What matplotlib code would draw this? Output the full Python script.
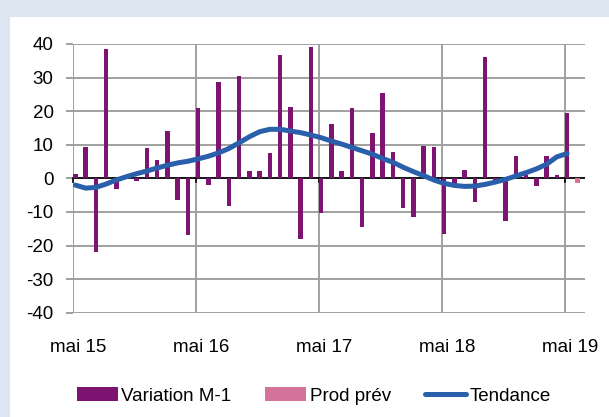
import numpy as np
import matplotlib.pyplot as plt
from matplotlib.patches import Rectangle

plt.rcParams['font.family'] = ['Liberation Sans', 'DejaVu Sans']
plt.rcParams['axes.unicode_minus'] = False

# Monthly change, mai 15 .. mai 19
variation = [1.3, 9.2, -21.8, 38.6, -3.3, 0.4, -0.7, 8.9, 5.6, 14.0, -6.4, -17.0,
             20.9, -2.1, 28.7, -8.2, 30.4, 2.3, 2.3, 7.4, 36.6, 21.2, -18.1, 39.1,
             -10.4, 16.1, 2.1, 20.9, -14.6, 13.4, 25.5, 7.8, -8.9, -11.4, 9.7, 9.2,
             -16.7, -1.7, 2.6, -6.9, 36.1, -1.0, -12.6, 6.7, 1.0, -2.2, 6.7, 1.0,
             19.4]
prod_prev = [-1.3]  # juin 19
tendance = [-2.0, -2.9, -2.7, -1.7, -0.5, 0.5, 1.4, 2.2, 3.1, 3.9, 4.6, 5.1,
            5.8, 6.6, 7.6, 8.9, 10.6, 12.4, 13.9, 14.6, 14.6, 14.1, 13.6, 12.9,
            12.1, 11.1, 10.2, 9.2, 8.2, 7.2, 5.9, 4.8, 3.3, 2.0, 0.8, -0.5,
            -1.5, -2.1, -2.4, -2.3, -1.8, -1.1, -0.3, 0.7, 1.7, 2.8, 4.2, 6.4,
            7.4]
tick_labels = ["mai 15", "mai 16", "mai 17", "mai 18", "mai 19"]

x_var = np.arange(len(variation))
x_prev = np.arange(len(variation), len(variation) + len(prod_prev))

fig = plt.figure(figsize=(6.09, 4.17), dpi=100)
fig.patch.set_facecolor("#dce6f1")
# white panel
fig.patches.append(Rectangle((10 / 609, 0), 1, 1 - 17 / 417, transform=fig.transFigure,
                             facecolor="white", edgecolor="none", zorder=-10))

ax = fig.add_axes([0.1194, 0.2501, 0.9606 - 0.1194, 0.8945 - 0.2501])
ax.set_facecolor("none")
ax.set_zorder(5)

b1 = ax.bar(x_var, variation, width=0.44, color="#7e1471", zorder=3)
b2 = ax.bar(x_prev, prod_prev, width=0.44, color="#d4739a", zorder=3)
l1, = ax.plot(x_var, tendance, color="#2a5fab", lw=3.6, solid_capstyle="round", zorder=4)

ax.set_xlim(-0.25, 49.75)
ax.set_ylim(-40, 40)
ax.set_yticks(np.arange(-40, 41, 10))
# gridlines at year starts, labels a bit to the right of them
grid_pos = np.arange(0, 49, 12) - 0.25
ax.set_xticks(grid_pos, minor=True)
ax.set_xticks(grid_pos + 0.52)
ax.set_xticklabels(tick_labels)

ax.grid(True, axis="y", color="#a0a0a0", lw=1.4, zorder=0)
ax.grid(True, axis="x", which="minor", color="#a0a0a0", lw=1.4, zorder=0)
ax.axhline(0, color="black", lw=1.2, zorder=2)
for t in grid_pos:
    ax.plot([t, t], [0, -1.2], color="black", lw=1.2, zorder=2, clip_on=False)

for s in ax.spines.values():
    s.set_visible(False)
ax.tick_params(axis="y", length=4.8, width=1.4, color="#a0a0a0", labelsize=13.5, pad=9)
ax.tick_params(axis="x", which="both", length=0, labelsize=13.5, pad=19)

fig.legend([b1, b2, l1], ["Variation M-1", "Prod prév", "Tendance"],
           loc="center", bbox_to_anchor=(0.515, 1 - 396 / 417), ncol=3, frameon=False,
           fontsize=13.5, handlelength=2.2, handleheight=0.71, handletextpad=0.18,
           columnspacing=1.8)

fig.savefig("out.png", dpi=100, facecolor=fig.get_facecolor())
